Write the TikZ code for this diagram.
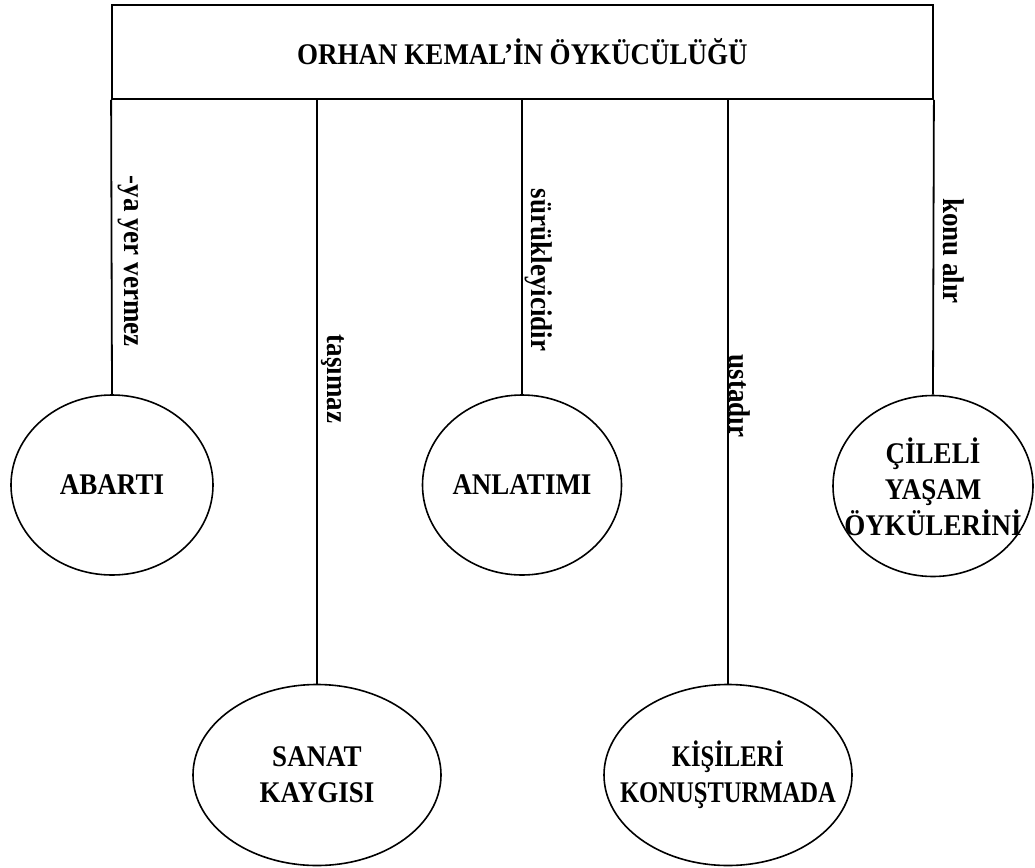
\documentclass[tikz,border=0pt]{standalone}
\usepackage{fontspec}
\setmainfont{Liberation Serif}[FakeStretch=0.9]
\newfontfamily\narrowserif{Liberation Serif}[FakeStretch=0.82]
\usetikzlibrary{shapes.geometric}
\begin{document}
\begin{tikzpicture}[x=1pt,y=-1pt,
  txt/.style={font=\fontsize{30}{36}\selectfont\bfseries, align=center},
  narrowtxt/.style={font=\narrowserif\fontsize{30}{36}\selectfont\bfseries, align=center},
  titlebox/.style={txt, draw, line width=1.8pt, minimum width=821pt, minimum height=94pt, inner sep=0pt},
  bubble/.style={ellipse, draw, line width=1.6pt, inner sep=0pt},
  inside/.style={txt, inner sep=0pt},
  stem/.style={line width=1.8pt},
  tag/.style={txt, rotate=-90, inner sep=0pt}]
\useasboundingbox (0,0) rectangle (1035,867);

% heading box
\node[titlebox] (title) at (522.5,52) {ORHAN KEMAL’İN ÖYKÜCÜLÜĞÜ};

% points on the lower edge of the heading box
\coordinate (s1) at (title.south west);
\coordinate (s2) at (317,99);
\coordinate (s3) at (522,99);
\coordinate (s4) at (728,99);
\coordinate (s5) at (title.south east);

% ellipses, sized independently of their text
\node[bubble, minimum width=202pt, minimum height=180pt] (abarti) at (112,485) {};
\node[bubble, minimum width=248pt, minimum height=181pt] (sanat) at (317,775) {};
\node[bubble, minimum width=199pt, minimum height=180pt] (anlatim) at (522,485) {};
\node[bubble, minimum width=248pt, minimum height=181pt] (kisi) at (728,775) {};
\node[bubble, minimum width=200pt, minimum height=181pt] (cile) at (933,486) {};

% texts inside the ellipses
\node[inside] (abartiT) at (abarti.center) {ABARTI};
\node[inside] (sanatT) at (sanat.center) {SANAT\\KAYGISI};
\node[inside] (anlatimT) at (anlatim.center) {ANLATIMI};
\node[inside, narrowtxt] (kisiT) at (kisi.center) {KİŞİLERİ\\KONUŞTURMADA};
\node[inside] (cileT) at ([yshift=-1pt]cile.center) {ÇİLELİ\\YAŞAM\\ÖYKÜLERİNİ};

% connectors
\draw[stem] (s1) -- (abarti.north);
\draw[stem] (s2) -- (sanat.north);
\draw[stem] (s3) -- (anlatim.north);
\draw[stem] (s4) -- (kisi.north);
\draw[stem] (s5) -- (cile.north);

% vertical labels beside the connectors
\node[tag] (t1) at (128,261) {-ya yer vermez};
\node[tag] (t2) at (333,379) {taşımaz};
\node[tag] (t3) at (539,270) {sürükleyicidir};
\node[tag] (t4) at (740,396) {ustadır};
\node[tag] (t5) at (954,251) {konu alır};
\end{tikzpicture}
\end{document}
